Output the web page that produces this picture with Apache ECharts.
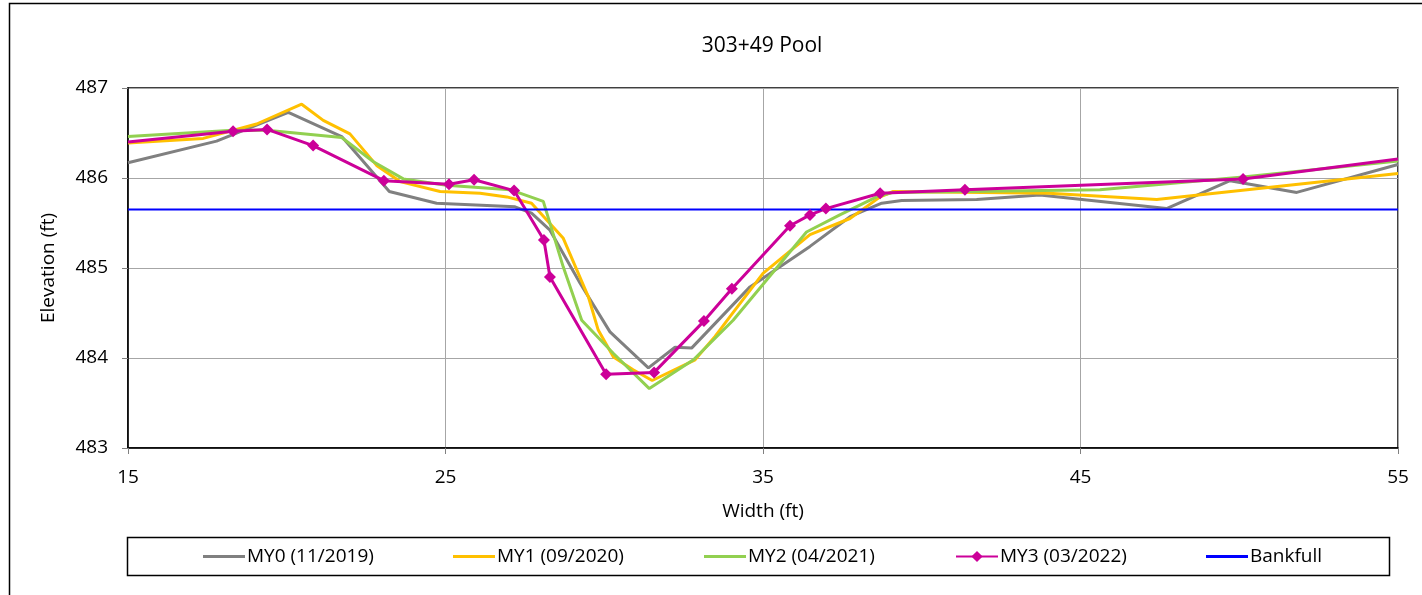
<!DOCTYPE html>
<html>
<head>
<meta charset="utf-8">
<script src="https://cdn.jsdelivr.net/npm/echarts@6/dist/echarts.min.js"></script>
<style>
html,body{margin:0;padding:0;background:#fff;}
#chart{width:1422px;height:595px;}
</style>
</head>
<body>
<div id="chart"></div>
<script>
const titleText = '303+49 Pool';
const xName = 'Width (ft)';
const yName = 'Elevation (ft)';
const seriesNames = ['MY0 (11/2019)', 'MY1 (09/2020)', 'MY2 (04/2021)', 'MY3 (03/2022)', 'Bankfull'];

const my0 = [[15,486.17],[17.79,486.41],[20.05,486.73],[21.73,486.46],[23.23,485.85],[24.72,485.72],[27.19,485.68],[27.71,485.61],[28.29,485.42],[29.24,484.83],[30.18,484.29],[31.39,483.89],[32.23,484.12],[32.75,484.11],[34.59,484.79],[36.48,485.24],[37.74,485.57],[38.74,485.72],[39.37,485.75],[41.73,485.76],[43.72,485.81],[47.71,485.66],[49.71,485.97],[51.81,485.84],[55,486.15]];
const my1 = [[15,486.39],[17.37,486.44],[19.05,486.60],[20.47,486.82],[21.15,486.64],[21.99,486.49],[22.83,486.14],[23.57,485.96],[24.83,485.85],[26.09,485.83],[26.93,485.79],[27.71,485.72],[28.71,485.33],[29.50,484.68],[29.81,484.31],[30.29,484.01],[30.91,483.87],[31.51,483.75],[32.86,483.98],[33.49,484.24],[33.96,484.46],[35.00,484.94],[36.48,485.37],[37.74,485.55],[38.69,485.79],[39.10,485.85],[44.00,485.83],[47.40,485.76],[55,486.05]];
const my2 = [[15,486.46],[18.31,486.53],[19.37,486.53],[21.73,486.45],[22.73,486.18],[23.67,485.99],[25.03,485.92],[27.03,485.87],[28.08,485.74],[28.71,485.01],[29.29,484.42],[30.29,484.05],[31.42,483.66],[32.81,483.98],[33.38,484.18],[34.06,484.42],[36.37,485.40],[37.42,485.59],[38.58,485.79],[39.10,485.84],[45.61,485.87],[50.12,486.01],[55,486.19]];
const my3 = [[15,486.40],[18.31,486.52],[19.38,486.54],[20.83,486.36],[23.06,485.97],[25.11,485.93],[25.90,485.98],[27.16,485.86],[28.10,485.31],[28.29,484.90],[30.06,483.82],[31.57,483.84],[33.14,484.41],[34.02,484.77],[35.85,485.47],[36.48,485.59],[36.98,485.66],[38.69,485.83],[41.36,485.87],[50.12,485.99],[55,486.21]];
const bankfull = [[15,485.65],[55,485.65]];

const xMin = 15, xMax = 55, xStep = 10;
const yMin = 483, yMax = 487, yStep = 1;

const FONT = 'Open Sans';
const FS = 19;
const colors = ['#808080', '#FFC000', '#92D050', '#CC0099', '#0000FF'];

const chart = echarts.init(document.getElementById('chart'), null, {renderer: 'canvas'});

function lineSeries(name, data, color, withMarker, width) {
  return {
    name: name,
    type: 'line',
    data: data.map((p) => {
      const edge = p[0] <= xMin || p[0] >= xMax;
      return withMarker && edge ? {value: p, symbol: 'none'} : p;
    }),
    showSymbol: withMarker,
    symbol: withMarker ? 'diamond' : 'none',
    symbolSize: 12,
    itemStyle: {color: color},
    lineStyle: {color: color, width: width},
    clip: true,
    animation: false,
    z: 2
  };
}

const legendLefts = [203, 453, 704, 955, 1206];
const lineIcon = 'path://M0,0L42,0L42,3L0,3Z';

const option = {
  backgroundColor: '#fff',
  animation: false,
  textStyle: {fontFamily: FONT},
  title: {
    text: titleText,
    left: 757, textAlign: 'center',
    top: 31,
    textStyle: {fontFamily: FONT, fontSize: 21, fontWeight: 'normal', color: '#000'}
  },
  graphic: [
    {type: 'rect', shape: {x: 9.5, y: 3.5, width: 1600, height: 800}, style: {fill: 'none', stroke: '#000', lineWidth: 1.5}, silent: true, z: -1},
    {type: 'rect', shape: {x: 127.5, y: 537.5, width: 1262, height: 38}, style: {fill: '#fff', stroke: '#000', lineWidth: 1.5}, silent: true, z: 0}
  ],
  legend: seriesNames.map((n, i) => {
    const l = {
      data: [n],
      left: legendLefts[i],
      top: 547,
      itemWidth: 42,
      itemHeight: i === 3 ? 14 : 3,
      itemGap: 0,
      textStyle: {fontFamily: FONT, fontSize: FS, color: '#000', padding: [0,0,0,-3]},
      padding: 0,
      selectedMode: false,
      z: 10
    };
    if (i !== 3) { l.icon = lineIcon; }
    return l;
  }),
  grid: {left: 128, right: 24, top: 88, bottom: 147, show: true, borderColor: '#000', borderWidth: 1.5, backgroundColor: 'transparent'},
  xAxis: {
    type: 'value', min: xMin, max: xMax, interval: xStep,
    name: xName, nameLocation: 'middle', nameGap: 54,
    nameTextStyle: {fontFamily: FONT, fontSize: FS, color: '#000'},
    axisLine: {show: true, lineStyle: {color: '#000', width: 1.5}},
    axisTick: {show: true, inside: false, length: 6, lineStyle: {color: '#808080'}},
    axisLabel: {fontFamily: FONT, fontSize: FS, color: '#000', margin: 20},
    splitLine: {show: true, lineStyle: {color: '#a6a6a6', width: 1}}
  },
  yAxis: {
    type: 'value', min: yMin, max: yMax, interval: yStep,
    name: yName, nameLocation: 'middle', nameGap: 70,
    nameTextStyle: {fontFamily: FONT, fontSize: FS, color: '#000'},
    axisLine: {show: true, lineStyle: {color: '#000', width: 1.5}},
    axisTick: {show: true, inside: false, length: 6, lineStyle: {color: '#808080'}},
    axisLabel: {fontFamily: FONT, fontSize: FS, color: '#000', margin: 20},
    splitLine: {show: true, lineStyle: {color: '#a6a6a6', width: 1}}
  },
  series: [
    lineSeries(seriesNames[0], my0, colors[0], false, 3),
    lineSeries(seriesNames[1], my1, colors[1], false, 3),
    lineSeries(seriesNames[2], my2, colors[2], false, 3),
    lineSeries(seriesNames[3], my3, colors[3], true, 3),
    lineSeries(seriesNames[4], bankfull, colors[4], false, 2)
  ]
};
chart.setOption(option);
</script>
</body>
</html>
